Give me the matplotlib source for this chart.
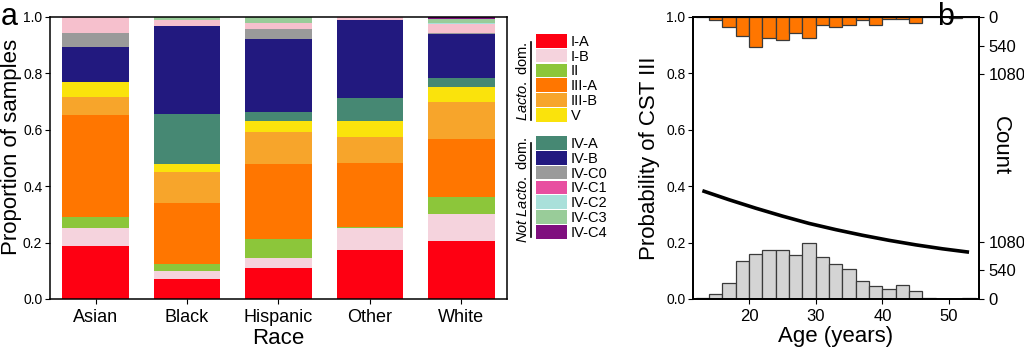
import numpy as np
import matplotlib as mpl
import matplotlib.pyplot as plt
from matplotlib.patches import Patch
from matplotlib.lines import Line2D

plt.rcParams['font.family'] = ['Liberation Sans', 'DejaVu Sans']
plt.rcParams['mathtext.fontset'] = 'custom'
plt.rcParams['mathtext.rm'] = 'Liberation Sans'
plt.rcParams['mathtext.it'] = 'Liberation Sans:italic'
plt.rcParams['axes.linewidth'] = 1.1

# Community state types, stacked bottom to top.
csts = ['I-A', 'I-B', 'II', 'III-A', 'III-B', 'V',
        'IV-A', 'IV-B', 'IV-C0', 'IV-C1', 'IV-C2', 'IV-C3', 'IV-C4']
cstColors = ['#fe0012', '#f5d3dd', '#8cc63a', '#ff7600', '#f7a52b', '#fae30c',
             '#468873', '#22197f', '#9a9a9a', '#e84ea0', '#a9e0da', '#99cc99',
             '#7f0f7e']
# IV-C1 fill inside the bars is paler than its legend swatch.
barColors = cstColors[:9] + ['#f6c0cd'] + cstColors[10:]

races = ['Asian', 'Black', 'Hispanic', 'Other', 'White']

# Proportion of samples in each CST (same order as csts).
asian = [0.187, 0.063, 0.041, 0.363, 0.064, 0.052, 0.000, 0.122, 0.052,
         0.056, 0.000, 0.000, 0.000]
black = [0.072, 0.026, 0.027, 0.216, 0.109, 0.029, 0.178, 0.311, 0.000,
         0.021, 0.000, 0.011, 0.000]
hispanic = [0.111, 0.036, 0.065, 0.265, 0.115, 0.038, 0.034, 0.257, 0.036,
            0.020, 0.000, 0.023, 0.000]
other = [0.172, 0.081, 0.004, 0.226, 0.092, 0.057, 0.080, 0.277, 0.000,
         0.011, 0.000, 0.000, 0.000]
white = [0.205, 0.098, 0.057, 0.208, 0.130, 0.053, 0.034, 0.155, 0.002,
         0.033, 0.005, 0.014, 0.006]

# Age histograms (2-year bins) and fitted probability of CST III.
ageBinEdges = [12, 14, 16, 18, 20, 22, 24, 26, 28, 30, 32, 34, 36, 38, 40,
               42, 44, 46, 48, 50, 52, 54]
allCounts = [20, 100, 297, 720, 859, 935, 928, 840, 1067, 802, 670, 568,
             341, 246, 183, 259, 145, 20, 0, 0, 25]
cst3Counts = [0, 57, 196, 360, 562, 404, 429, 303, 404, 158, 196, 158,
              63, 152, 32, 32, 120, 0, 0, 12, 0]
fitAges = [13, 17, 21, 25, 29, 33, 37, 41, 45, 49, 53]
fitProb = [0.384, 0.352, 0.322, 0.294, 0.268, 0.246, 0.226, 0.208, 0.192,
           0.178, 0.166]
countTicks = [0, 540, 1080]


def plot_race_bars(fig, ax):
    """
    Stacked bars of CST proportions for each race, with the CST legend
    and the Lacto. dom. brackets to the right.
    """
    table = np.array([asian, black, hispanic, other, white])
    x = np.arange(len(races))
    bottom = np.zeros(len(races))
    for i, cst in enumerate(csts):
        ax.bar(x, table[:, i], width=0.73, bottom=bottom,
               color=barColors[i], linewidth=0, label=cst)
        bottom += table[:, i]

    ax.set_xlim(-0.5, 4.5)
    ax.set_ylim(0, 1)
    ax.set_xticks(x)
    ax.set_xticklabels(races, fontsize=13)
    ax.set_yticks(np.arange(0, 1.01, 0.2))
    ax.yaxis.set_major_formatter('{x:.1f}')
    ax.tick_params(axis='y', labelsize=10, pad=2)
    ax.set_xlabel('Race', fontsize=16, labelpad=2)
    ax.set_ylabel('Proportion of samples', fontsize=16)
    ax.yaxis.set_label_coords(-0.062, 0.54)

    # Legend in two groups with touching swatches.
    handles = [Patch(facecolor=c, label=l) for c, l in zip(cstColors, csts)]
    legendKw = dict(frameon=False, fontsize=10.5, handlelength=2.1,
                    handleheight=1.07, handletextpad=0.3, labelspacing=0.0,
                    borderpad=0, borderaxespad=0, loc='upper left')
    fig.legend(handles=handles[:6], bbox_to_anchor=(0.5235, 0.903),
               **legendKw)
    fig.legend(handles=handles[6:], bbox_to_anchor=(0.5235, 0.610),
               **legendKw)

    fig.add_artist(Line2D([0.5186, 0.5186], [0.656, 0.880],
                          color='black', linewidth=1.2))
    fig.add_artist(Line2D([0.5186, 0.5186], [0.322, 0.590],
                          color='black', linewidth=1.2))
    fig.text(0.510, 0.768, r'$\mathit{Lacto.}$ dom.', rotation=90,
             ha='center', va='center', fontsize=10.5)
    fig.text(0.510, 0.456, r'$\mathit{Not\ Lacto.}$ dom.', rotation=90,
             ha='center', va='center', fontsize=10.5)


def plot_age(ax):
    """
    Probability of CST III against age, with the age histogram of all
    samples at the bottom and of CST III samples hanging from the top.
    """
    edges = np.array(ageBinEdges)
    widths = np.diff(edges)

    ax.plot(fitAges, fitProb, color='black', linewidth=2.6,
            solid_capstyle='butt', zorder=5)
    ax.set_xlim(11.6, 54.5)
    ax.set_ylim(0, 1)
    ax.set_xticks([20, 30, 40, 50])
    ax.set_yticks(np.arange(0, 1.01, 0.2))
    ax.yaxis.set_major_formatter('{x:.1f}')
    ax.tick_params(axis='x', labelsize=12)
    ax.tick_params(axis='y', labelsize=10, pad=2)
    ax.set_xlabel('Age (years)', fontsize=16, labelpad=2)
    ax.set_ylabel('Probability of CST III', fontsize=16, labelpad=4)

    axBottom = ax.twinx()
    axBottom.bar(edges[:-1], allCounts, width=widths, align='edge',
                 color='#d4d4d4', edgecolor='#3a3a3a', linewidth=0.9)
    axBottom.set_ylim(0, 5340)
    axBottom.set_yticks(countTicks)
    axBottom.tick_params(axis='y', labelsize=12)
    axBottom.set_ylabel('Count', fontsize=16, rotation=270, va='center')
    axBottom.yaxis.set_label_coords(1.075, 0.545)

    axTop = ax.twinx()
    axTop.bar(edges[:-1], cst3Counts, width=widths, align='edge',
              color='#ff7600', edgecolor='#3a3a3a', linewidth=0.9)
    axTop.set_ylim(5340, 0)
    axTop.set_yticks(countTicks)
    axTop.tick_params(axis='y', labelsize=12)

    ax.set_zorder(axTop.get_zorder() + 1)
    ax.patch.set_visible(False)


def main():
    fig = plt.figure(figsize=(10.24, 3.49), dpi=100)
    axA = fig.add_axes([0.0488, 0.1433, 0.4463, 0.808])
    axB = fig.add_axes([0.6768, 0.1433, 0.2793, 0.808])

    plot_race_bars(fig, axA)
    plot_age(axB)

    fig.text(0.001, 0.928, 'a', fontsize=22, va='baseline')
    fig.text(0.915, 0.928, 'b', fontsize=22, va='baseline')

    fig.savefig('out.png', dpi=100)


if __name__ == '__main__':
    main()
